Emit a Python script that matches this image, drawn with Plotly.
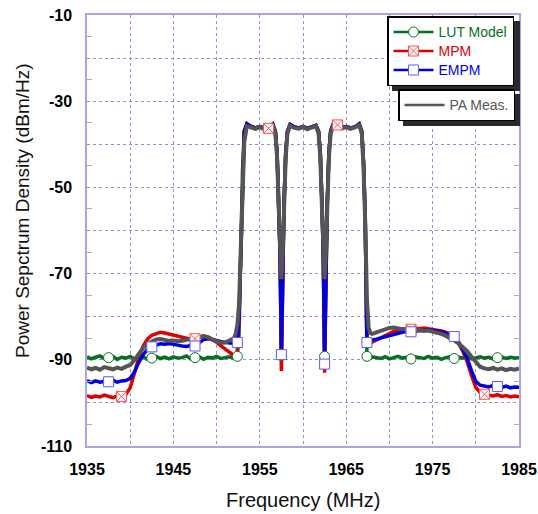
import plotly.graph_objects as go

# ---------------- data ----------------
freq_left = [1935.0, 1935.5, 1936.0, 1936.5, 1937.0, 1937.5, 1938.0, 1938.5, 1939.0, 1939.5,
             1940.0, 1940.5, 1941.0, 1941.5, 1942.0, 1942.5, 1943.0, 1943.5, 1944.0, 1944.5,
             1945.0, 1945.5, 1946.0, 1946.5, 1947.0, 1947.5, 1948.0, 1948.5, 1949.0, 1949.5,
             1950.0, 1950.5, 1951.0, 1951.5, 1952.0]
freq_band = [1952.2, 1952.4, 1952.6, 1952.8, 1953.0, 1953.2, 1953.5, 1954.0, 1954.5, 1955.0,
             1955.5, 1956.0, 1956.5, 1956.8, 1957.0, 1957.2, 1957.35, 1957.5, 1957.65, 1957.8,
             1958.0, 1958.2, 1958.5, 1959.0, 1959.5, 1960.0, 1960.5, 1961.0, 1961.5, 1961.8,
             1962.0, 1962.2, 1962.35, 1962.5, 1962.65, 1962.8, 1963.0, 1963.2, 1963.5, 1964.0,
             1964.5, 1965.0, 1965.5, 1966.0, 1966.5, 1966.8, 1967.0, 1967.2, 1967.4, 1967.6,
             1967.8, 1968.0]
freq_right = [1968.5, 1969.0, 1969.5, 1970.0, 1970.5, 1971.0, 1971.5, 1972.0, 1972.5, 1973.0,
              1973.5, 1974.0, 1974.5, 1975.0, 1975.5, 1976.0, 1976.5, 1977.0, 1977.5, 1978.0,
              1978.5, 1979.0, 1979.5, 1980.0, 1980.5, 1981.0, 1981.5, 1982.0, 1982.5, 1983.0,
              1983.5, 1984.0, 1984.5, 1985.0]

lut_left = [-89.3, -89.8, -89.4, -89.1, -89.7, -89.5, -89.2, -89.9, -89.4, -89.6,
            -89.2, -89.8, -89.5, -89.3, -89.9, -89.6, -89.2, -89.7, -89.4, -89.8,
            -89.3, -89.6, -89.5, -89.1, -89.8, -89.5, -89.3, -89.9, -89.4, -89.6,
            -89.2, -89.7, -89.5, -89.3, -89.6]
lut_band = [-89.4, -89.2, -84.0, -64.0, -46.0, -37.0, -35.3, -35.9, -36.2, -35.9,
            -36.3, -36.0, -35.3, -37.0, -42.0, -54.0, -66.0, -89.0, -66.0, -54.0,
            -42.0, -37.0, -35.4, -36.0, -36.2, -35.9, -36.3, -36.0, -35.6, -37.0,
            -42.0, -54.0, -66.0, -89.2, -66.0, -54.0, -42.0, -37.0, -35.3, -35.8,
            -36.1, -35.9, -36.2, -36.0, -35.3, -37.0, -44.0, -57.0, -89.2, -89.4,
            -89.6, -89.3]
lut_right = [-89.4, -89.7, -89.3, -89.8, -89.5, -89.2, -89.6, -89.4, -89.8, -89.3,
             -89.5, -89.7, -89.2, -89.6, -89.4, -89.9, -89.5, -89.3, -89.7, -89.4,
             -89.6, -89.2, -89.8, -89.5, -89.3, -89.6, -89.4, -89.8, -89.5, -89.3,
             -89.7, -89.4, -89.6, -89.5]

mpm_left = [-98.3, -98.7, -98.4, -98.6, -98.2, -98.5, -98.8, -98.4, -98.5, -98.0,
            -96.5, -93.0, -89.5, -86.8, -85.2, -84.3, -83.9, -83.6, -83.8, -84.0,
            -84.2, -84.5, -84.8, -85.0, -85.3, -85.1, -84.8, -84.5, -84.7, -85.2,
            -85.9, -86.8, -87.6, -88.4, -89.0]
mpm_band = [-89.2, -87.8, -80.0, -63.0, -46.0, -37.2, -35.4, -35.9, -36.2, -35.9,
            -36.2, -36.3, -35.5, -37.0, -42.0, -54.0, -66.0, -92.6, -66.0, -54.0,
            -42.0, -37.0, -35.4, -36.0, -36.2, -35.9, -36.3, -36.0, -35.6, -37.0,
            -42.0, -54.0, -66.0, -93.0, -66.0, -54.0, -42.0, -37.0, -35.3, -35.5,
            -36.1, -35.9, -36.2, -36.0, -35.3, -37.0, -44.0, -57.0, -86.5, -86.3,
            -86.2, -85.8]
mpm_right = [-85.4, -84.8, -84.3, -83.8, -83.4, -83.1, -82.9, -82.8, -82.9, -82.7,
             -82.8, -82.6, -82.8, -82.9, -83.1, -83.3, -83.6, -84.0, -84.8, -86.2,
             -88.0, -90.5, -93.6, -96.4, -97.6, -98.0, -98.2, -98.4, -98.1, -98.5,
             -98.3, -98.6, -98.4, -98.6]

empm_left = [-94.8, -95.3, -94.9, -95.2, -95.0, -95.1, -94.7, -95.2, -94.9, -94.8,
             -94.3, -92.8, -90.6, -88.8, -87.6, -87.0, -86.6, -86.3, -86.4, -86.2,
             -86.5, -86.6, -86.8, -86.9, -86.7, -86.8, -86.0, -85.3, -85.1, -85.2,
             -85.5, -85.8, -86.0, -86.1, -86.2]
empm_band = [-86.1, -86.0, -80.0, -63.0, -46.0, -37.0, -35.2, -35.9, -36.2, -35.9,
             -36.3, -36.0, -35.3, -37.0, -42.0, -54.0, -66.0, -88.8, -66.0, -54.0,
             -42.0, -37.0, -35.4, -36.0, -36.2, -35.9, -36.3, -36.0, -35.6, -37.0,
             -42.0, -54.0, -66.0, -91.0, -66.0, -54.0, -42.0, -37.0, -35.3, -35.8,
             -36.1, -35.9, -36.2, -36.0, -35.3, -37.0, -44.0, -57.0, -86.0, -85.8,
             -85.6, -85.4]
empm_right = [-85.2, -84.9, -84.6, -84.3, -84.0, -83.8, -83.6, -83.4, -83.5, -83.3,
              -83.2, -83.3, -83.1, -83.2, -83.3, -83.5, -83.8, -84.1, -84.6, -85.8,
              -87.5, -89.6, -92.5, -95.0, -95.9, -96.1, -96.3, -96.0, -96.2, -96.4,
              -96.1, -96.5, -96.3, -96.4]

meas_left = [-91.8, -92.2, -91.9, -92.3, -91.7, -92.0, -92.2, -91.8, -92.1, -91.6,
             -91.2, -90.0, -88.6, -87.3, -86.3, -85.7, -85.3, -85.2, -85.4, -85.6,
             -85.5, -85.7, -85.6, -85.4, -85.2, -85.0, -84.7, -84.5, -84.8, -85.3,
             -85.8, -86.1, -86.0, -85.6, -85.0]
meas_band = [-84.0, -82.0, -77.0, -66.0, -50.0, -39.5, -35.8, -36.2, -36.4, -36.0,
             -36.5, -36.1, -35.6, -37.5, -43.0, -55.0, -65.0, -71.3, -65.0, -55.0,
             -43.0, -37.5, -35.7, -36.2, -36.4, -36.0, -36.5, -36.1, -35.8, -37.5,
             -43.0, -55.0, -65.0, -71.3, -65.0, -55.0, -43.0, -37.5, -35.6, -36.0,
             -36.3, -36.0, -36.4, -36.1, -35.6, -37.5, -45.0, -58.0, -76.0, -82.5,
             -83.8, -84.0]
meas_right = [-83.6, -83.3, -83.0, -82.6, -82.5, -82.7, -82.9, -82.8, -83.0, -83.2,
              -83.1, -83.3, -83.2, -83.4, -83.7, -84.0, -84.4, -84.9, -85.5, -86.2,
              -87.0, -88.0, -89.3, -90.6, -91.6, -92.0, -92.2, -91.9, -92.3, -92.0,
              -92.4, -92.1, -92.3, -92.0]

lut_marker_freqs = [1937.5, 1942.5, 1947.5, 1952.4, 1957.5, 1962.5, 1967.4, 1972.5, 1977.5, 1982.5]
empm_marker_freqs = [1937.5, 1942.5, 1947.5, 1952.4, 1957.5, 1962.5, 1967.4, 1972.5, 1977.5, 1982.5]
mpm_marker_freqs = [1939.0, 1947.5, 1956.0, 1964.0, 1972.5, 1981.0]

x_tick_vals = [1935, 1940, 1945, 1950, 1955, 1960, 1965, 1970, 1975, 1980, 1985]
x_tick_text = ["1935", "", "1945", "", "1955", "", "1965", "", "1975", "", "1985"]
y_tick_vals = [-110, -100, -90, -80, -70, -60, -50, -40, -30, -20, -10]
y_tick_text = ["-110", "", "-90", "", "-70", "", "-50", "", "-30", "", "-10"]
y_minor_vals = [-105, -95, -85, -75, -65, -55, -45, -35, -25, -15]

series_names = ["LUT Model", "MPM", "EMPM", "PA Meas."]

# ---------------- build ----------------
freq = freq_left + freq_band + freq_right
lut = lut_left + lut_band + lut_right
mpm = mpm_left + mpm_band + mpm_right
empm = empm_left + empm_band + empm_right
meas = meas_left + meas_band + meas_right

GREEN = "#0b6e1f"
RED = "#e00000"
BLUE = "#0000dc"
GRAY = "#555555"
FRAME = "#a8a8e0"
GRID = "#9090d8"
FONT = "Liberation Sans, Arial, sans-serif"

W, H = 538, 514
ML, MR, MT, MB = 87, 19, 15, 68
PW, PH = W - ML - MR, H - MT - MB


def px(x_abs):
    """window pixel column -> paper x"""
    return (x_abs - ML) / PW


def py(y_abs):
    """window pixel row -> paper y"""
    return 1 - (y_abs - MT) / PH


def pick(values, marks):
    return [values[freq.index(f)] for f in marks]


def legend_name(name, color):
    return f'<span style="color:{color};font-size:14px">{name}</span>'


fig = go.Figure()

fig.add_trace(go.Scatter(x=freq, y=lut, mode="lines", line=dict(color=GREEN, width=3.5),
                         showlegend=False, hoverinfo="skip"))
fig.add_trace(go.Scatter(x=freq, y=mpm, mode="lines", line=dict(color=RED, width=3.5),
                         showlegend=False, hoverinfo="skip"))
fig.add_trace(go.Scatter(x=freq, y=empm, mode="lines", line=dict(color=BLUE, width=3.5),
                         showlegend=False, hoverinfo="skip"))
fig.add_trace(go.Scatter(x=freq, y=meas, mode="lines", line=dict(color=GRAY, width=4),
                         showlegend=False, hoverinfo="skip"))

lut_marker = dict(symbol="circle", size=10, color="white", line=dict(color=GREEN, width=1))
mpm_marker = dict(symbol="square-x", size=10, color="white", line=dict(color="#ff5050", width=1))
empm_marker = dict(symbol="square", size=10, color="white", line=dict(color="#5a5aff", width=1))

fig.add_trace(go.Scatter(x=lut_marker_freqs, y=pick(lut, lut_marker_freqs), mode="markers",
                         marker=lut_marker, showlegend=False, hoverinfo="skip"))
fig.add_trace(go.Scatter(x=mpm_marker_freqs, y=pick(mpm, mpm_marker_freqs), mode="markers",
                         marker=mpm_marker, showlegend=False, hoverinfo="skip"))
fig.add_trace(go.Scatter(x=empm_marker_freqs, y=pick(empm, empm_marker_freqs), mode="markers",
                         marker=empm_marker, showlegend=False, hoverinfo="skip"))

fig.add_trace(go.Scatter(x=[None], y=[None], mode="lines+markers",
                         name=legend_name(series_names[0], GREEN),
                         line=dict(color=GREEN, width=2.5), marker=lut_marker, legend="legend"))
fig.add_trace(go.Scatter(x=[None], y=[None], mode="lines+markers",
                         name=legend_name(series_names[1], RED),
                         line=dict(color=RED, width=2.5), marker=mpm_marker, legend="legend"))
fig.add_trace(go.Scatter(x=[None], y=[None], mode="lines+markers",
                         name=legend_name(series_names[2], BLUE),
                         line=dict(color=BLUE, width=2.5), marker=empm_marker, legend="legend"))
fig.add_trace(go.Scatter(x=[None], y=[None], mode="lines",
                         name=legend_name(series_names[3], GRAY),
                         line=dict(color=GRAY, width=2.5), legend="legend2"))

tickfont = dict(family=FONT, size=16, color="black", weight="bold")

# legend boxes (window pixels) for the drop shadows
L1 = dict(left=387, top=16, right=515, bottom=86)
L2 = dict(left=398, top=89, right=515, bottom=121)
SH = 5
shadows = []
for box in (L1, L2):
    shadows.append(dict(type="rect", xref="paper", yref="paper",
                        x0=px(box["left"] + SH), x1=px(box["right"] + SH),
                        y0=py(box["top"] + SH), y1=py(box["bottom"] + SH),
                        fillcolor="#2a2a2a", line=dict(width=0), layer="above"))

fig.update_layout(
    width=W, height=H,
    margin=dict(l=ML, r=MR, t=MT, b=MB, autoexpand=False),
    paper_bgcolor="white", plot_bgcolor="white",
    font=dict(family=FONT, color="black"),
    xaxis=dict(range=[1935, 1985], tickmode="array", tickvals=x_tick_vals, ticktext=x_tick_text,
               ticks="", showgrid=True, gridcolor=GRID, griddash="dot", gridwidth=1,
               showline=True, linecolor=FRAME, linewidth=1.5, mirror=True, zeroline=False,
               tickfont=tickfont, ticklabelstandoff=8, automargin=False,
               ticklabeloverflow="allow"),
    yaxis=dict(range=[-110, -10], tickmode="array", tickvals=y_tick_vals, ticktext=y_tick_text,
               ticks="", showgrid=True, gridcolor=GRID, griddash="dot", gridwidth=1,
               showline=True, linecolor=FRAME, linewidth=1.5, mirror="ticks", zeroline=False,
               tickfont=tickfont, ticklabelstandoff=10, automargin=False,
               ticklabeloverflow="allow",
               minor=dict(tickmode="array", tickvals=y_minor_vals, ticks="inside", ticklen=5,
                          tickcolor=FRAME, tickwidth=1, showgrid=False)),
    legend=dict(x=px(L1["left"]), y=py(L1["top"]), xanchor="left", yanchor="top", bgcolor="white",
                bordercolor="black", borderwidth=1.5, itemwidth=40,
                font=dict(size=12, family=FONT), tracegroupgap=0),
    legend2=dict(x=px(L2["left"]), y=py(L2["top"]), xanchor="left", yanchor="top", bgcolor="white",
                 bordercolor="black", borderwidth=1.5, itemwidth=40,
                 font=dict(size=12, family=FONT)),
    shapes=shadows,
    annotations=[
        dict(text="Power Sepctrum Density (dBm/Hz)", xref="paper", yref="paper",
             x=px(22), y=py(211), xanchor="center", yanchor="middle", textangle=-90,
             showarrow=False, font=dict(size=19, family=FONT, color="#111")),
        dict(text="Frequency (MHz)", xref="paper", yref="paper",
             x=px(303), y=py(500), xanchor="center", yanchor="middle",
             showarrow=False, font=dict(size=20, family=FONT, color="#111")),
    ],
)

# the page's default 8px body margin would push the 538x514 figure out of the window
fig.write_html("out.html", config={"displayModeBar": False},
               post_script="document.body.style.margin='0px';")
